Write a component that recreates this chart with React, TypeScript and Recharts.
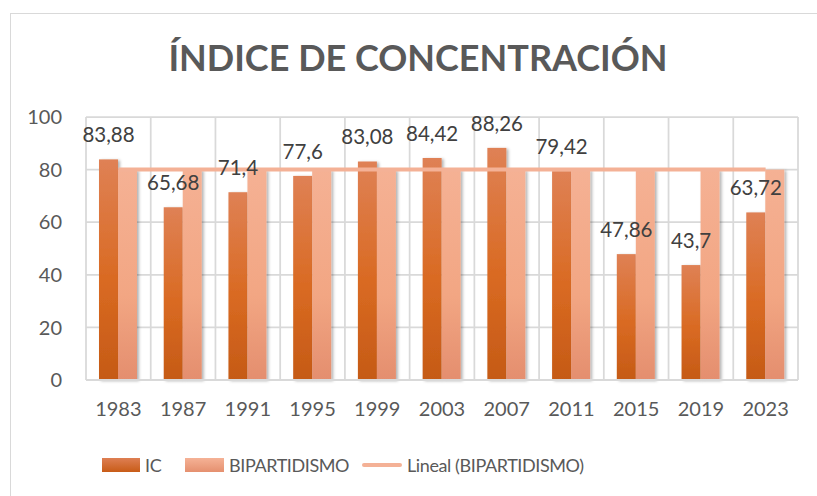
import { ComposedChart, Bar, Line, XAxis, YAxis, CartesianGrid, LabelList } from 'recharts';

const years = ['1983', '1987', '1991', '1995', '1999', '2003', '2007', '2011', '2015', '2019', '2023'];
const ic = [83.88, 65.68, 71.4, 77.6, 83.08, 84.42, 88.26, 79.42, 47.86, 43.7, 63.72];
const bipartidismo = [80, 80, 80, 80, 80, 80, 80, 80, 80, 80, 80];
const yTicks = [0, 20, 40, 60, 80, 100];

// least squares trend of BIPARTIDISMO (Excel "Lineal")
function linearTrend(values: number[]) {
  const n = values.length;
  const xs = values.map((_, i) => i + 1);
  const mx = xs.reduce((a, b) => a + b, 0) / n;
  const my = values.reduce((a, b) => a + b, 0) / n;
  let num = 0;
  let den = 0;
  xs.forEach((x, i) => {
    num += (x - mx) * (values[i] - my);
    den += (x - mx) * (x - mx);
  });
  const slope = den === 0 ? 0 : num / den;
  return xs.map((x) => my + slope * (x - mx));
}

const trend = linearTrend(bipartidismo);
const data = years.map((year, i) => ({ year, ic: ic[i], bip: bipartidismo[i], trend: trend[i] }));

const FONT = 'Lato, "Open Sans", sans-serif';
const TEXT = '#595959';

const ShadowBar = (props: any) => {
  const { x, y, width, height, fill } = props;
  if (!height || height <= 0) return null;
  return <rect x={x} y={y} width={width} height={height} fill={fill} filter="url(#barShadow)" />;
};

const IcLabel = (props: any) => {
  const { x, y, width, value } = props;
  return (
    <text
      x={x + width / 2}
      y={y - 25}
      textAnchor="middle"
      dominantBaseline="central"
      fill="#404040"
      fontSize={20.5}
      fontFamily={FONT}
    >
      {String(value).replace('.', ',')}
    </text>
  );
};

function LegendRow() {
  const item = { display: 'flex', alignItems: 'center', position: 'absolute' as const, top: 452 };
  const label = { fontFamily: FONT, fontSize: 18, color: TEXT, marginLeft: 5, lineHeight: '26px', letterSpacing: -0.4 };
  return (
    <>
      <div style={{ ...item, left: 102 }}>
        <div style={{ width: 38, height: 14, background: 'linear-gradient(#de7f53, #c85c17)' }} />
        <span style={label}>IC</span>
      </div>
      <div style={{ ...item, left: 185 }}>
        <div style={{ width: 39, height: 14, background: 'linear-gradient(#f5b296, #e5906f)' }} />
        <span style={label}>BIPARTIDISMO</span>
      </div>
      <div style={{ ...item, left: 362 }}>
        <div style={{ width: 40, height: 4, borderRadius: 2, background: '#f4b196' }} />
        <span style={label}>Lineal (BIPARTIDISMO)</span>
      </div>
    </>
  );
}

export default function App() {
  return (
    <div style={{ position: 'absolute', left: 0, top: 0, width: 817, height: 496, overflow: 'hidden', background: '#fff' }}>
      <div style={{ position: 'absolute', left: 10, top: 13, width: 900, height: 600, border: '1.5px solid #d9d9d9' }} />
      <div
        style={{
          position: 'absolute',
          left: 0,
          top: 35,
          width: 836,
          textAlign: 'center',
          fontFamily: FONT,
          fontWeight: 700,
          fontSize: 36,
          color: TEXT,
        }}
      >
        ÍNDICE DE CONCENTRACIÓN
      </div>
      <div style={{ position: 'absolute', left: 0, top: 0 }}>
        <ComposedChart
          width={817}
          height={496}
          data={data}
          margin={{ top: 117, right: 19, bottom: 86, left: 0 }}
          barGap={0}
        >
          <defs>
            <linearGradient id="gradIc" x1="0" y1="0" x2="0" y2="1">
              <stop offset="0%" stopColor="#df8155" />
              <stop offset="55%" stopColor="#d96a22" />
              <stop offset="100%" stopColor="#c55a16" />
            </linearGradient>
            <linearGradient id="gradBip" x1="0" y1="0" x2="0" y2="1">
              <stop offset="0%" stopColor="#f5b194" />
              <stop offset="60%" stopColor="#f2a683" />
              <stop offset="100%" stopColor="#e48e6e" />
            </linearGradient>
            <filter id="barShadow" x="-30%" y="-10%" width="160%" height="120%">
              <feDropShadow dx="2" dy="1" stdDeviation="1.5" floodColor="#000" floodOpacity="0.3" />
            </filter>
          </defs>
          <CartesianGrid
            stroke="#d9d9d9"
            strokeWidth={1.75}
            verticalCoordinatesGenerator={({ offset }: any) =>
              years.map((_, i) => offset.left + (i * offset.width) / years.length).concat(offset.left + offset.width)
            }
          />
          <XAxis
            dataKey="year"
            axisLine={{ stroke: '#d9d9d9', strokeWidth: 2 }}
            tickLine={false}
            tickSize={0}
            tickMargin={22}
            height={30}
            tick={{ fill: TEXT, fontSize: 20, fontFamily: FONT }}
          />
          <YAxis
            domain={[0, 100]}
            ticks={yTicks}
            width={86}
            axisLine={false}
            tickLine={false}
            tickSize={0}
            tickMargin={24}
            tick={{ fill: TEXT, fontSize: 20, fontFamily: FONT }}
          />
          <Bar dataKey="ic" name="IC" fill="url(#gradIc)" barSize={19} shape={ShadowBar} isAnimationActive={false}>
            <LabelList dataKey="ic" content={IcLabel} />
          </Bar>
          <Bar dataKey="bip" name="BIPARTIDISMO" fill="url(#gradBip)" barSize={19} shape={ShadowBar} isAnimationActive={false} />
          <Line
            dataKey="trend"
            name="Lineal (BIPARTIDISMO)"
            type="linear"
            stroke="#f4b196"
            strokeWidth={4}
            dot={false}
            activeDot={false}
            isAnimationActive={false}
          />
        </ComposedChart>
      </div>
      <LegendRow />
    </div>
  );
}
